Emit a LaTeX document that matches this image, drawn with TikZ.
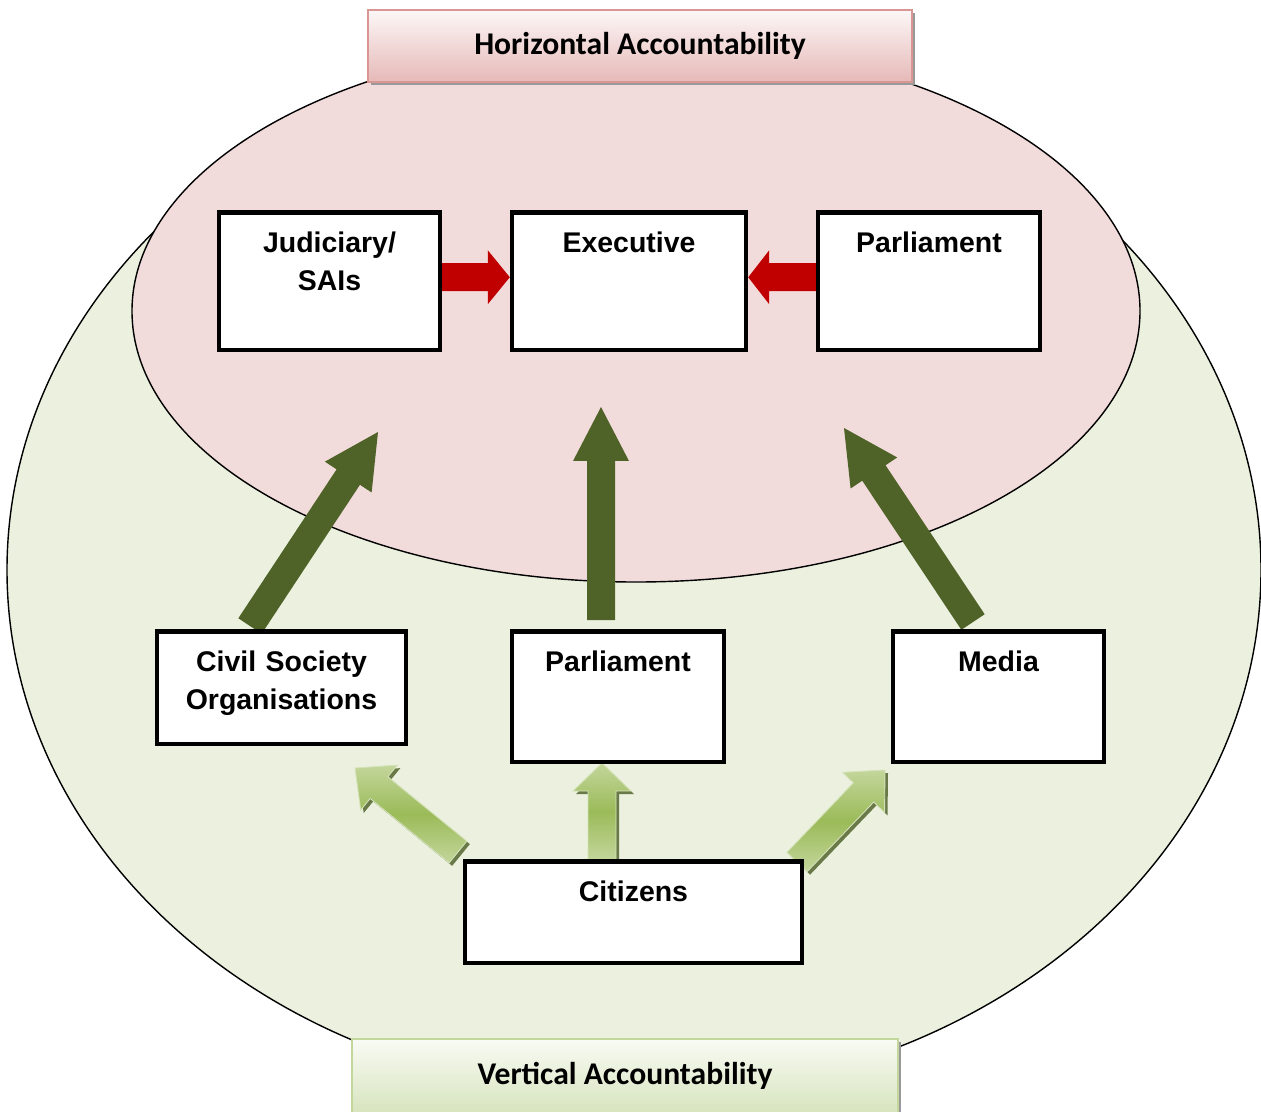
\documentclass[tikz,border=0pt]{standalone}
\usepackage{fontspec}
\setmainfont{Liberation Sans}
\newfontfamily\bannerfont{Carlito}
\usetikzlibrary{calc,shadows}

\definecolor{hpink}{HTML}{F2DCDB}
\definecolor{vgreen}{HTML}{EBF1DE}
\definecolor{darkolive}{HTML}{4F6228}
\definecolor{arrowred}{HTML}{C00000}
\definecolor{lightleaf}{HTML}{C3D69B}
\definecolor{leaf}{HTML}{9BBB59}
\definecolor{pinkedge}{HTML}{D99694}
\definecolor{pinkband}{HTML}{E6B9B8}
\definecolor{greenband}{HTML}{D7E4BD}

% block arrow: style, tail, tip, shaft half width, head half width, head length
\newcommand\fatarrow[6]{%
  \coordinate (fa-base) at ($(#3)!#6!(#2)$);
  \path[#1] ($(#2)!#4!90:(#3)$) -- ($(fa-base)!#4!90:(#3)$) -- ($(fa-base)!#5!90:(#3)$)
    -- (#3) -- ($(fa-base)!#5!-90:(#3)$) -- ($(fa-base)!#4!-90:(#3)$) -- ($(#2)!#4!-90:(#3)$) -- cycle;}

\begin{document}
\begin{tikzpicture}[
  x=0.02cm, y=-0.02cm,
  font=\fontsize{16.2}{22}\selectfont\bfseries,
  box/.style={draw, line width=0.09cm, fill=white, inner sep=0pt, align=center, anchor=north, text height=0.8cm},
  banner/.style={draw, line width=0.04cm, inner sep=0pt, font=\bannerfont\fontsize{18}{22}\selectfont\bfseries,
    drop shadow={shadow xshift=0.06cm, shadow yshift=-0.06cm, fill=black!40, opacity=1}},
  redarrow/.style={fill=arrowred},
  olivearrow/.style={fill=darkolive},
  leafarrow/.style={top color=lightleaf, bottom color=lightleaf, middle color=leaf, draw=lightleaf!70, line width=0.5pt,
    drop shadow={shadow xshift=0.06cm, shadow yshift=-0.06cm, fill=darkolive!85, opacity=1}}]

  \useasboundingbox (0,0) rectangle (1261,1112);

  % the two areas
  \draw[fill=vgreen, line width=0.8pt] (634,570) ellipse [x radius=627, y radius=526];
  \draw[fill=hpink, line width=0.8pt] (636,311) ellipse [x radius=504, y radius=271];

  % ends of the arrows
  \coordinate (civ-tail) at (250,626);
  \coordinate (civ-tip) at (378,432);
  \coordinate (par-tail) at (601,620);
  \coordinate (par-tip) at (601,407);
  \coordinate (med-tail) at (973,622);
  \coordinate (med-tip) at (844,428);
  \coordinate (cit-left) at (458,852);
  \coordinate (to-civil) at (355,768);
  \coordinate (cit-mid) at (602,860);
  \coordinate (to-parl) at (602,763);
  \coordinate (cit-right) at (797,862);
  \coordinate (to-media) at (885,770);

  \fatarrow{olivearrow}{civ-tail}{civ-tip}{0.28cm}{0.56cm}{1.08cm}
  \fatarrow{olivearrow}{par-tail}{par-tip}{0.28cm}{0.56cm}{1.08cm}
  \fatarrow{olivearrow}{med-tail}{med-tip}{0.28cm}{0.56cm}{1.08cm}

  \fatarrow{leafarrow}{cit-left}{to-civil}{0.28cm}{0.58cm}{0.62cm}
  \fatarrow{leafarrow}{cit-mid}{to-parl}{0.28cm}{0.58cm}{0.56cm}
  \fatarrow{leafarrow}{cit-right}{to-media}{0.28cm}{0.58cm}{0.62cm}

  % boxes
  \node[box, text width=4.42cm, text depth=1.96cm] (judiciary) at (329.5,210) {Judiciary/\\SAIs};
  \node[box, text width=4.68cm, text depth=1.96cm] (executive) at (629,210) {Executive};
  \node[box, text width=4.44cm, text depth=1.96cm] (parliament-h) at (929,210) {Parliament};
  \node[box, text width=4.98cm, text depth=1.46cm] (civil) at (281.5,629) {Civil Society\\Organisations};
  \node[box, text width=4.24cm, text depth=1.82cm] (parliament-v) at (618,629) {Parliament};
  \node[box, text width=4.22cm, text depth=1.82cm] (media) at (998.5,629) {Media};
  \node[box, text width=6.74cm, text depth=1.24cm] (citizens) at (633.5,859) {Citizens};

  \coordinate (jud-out) at ($(judiciary.east)+(0,-4)$);
  \coordinate (exe-left) at ($(executive.west)+(0,-4)$);
  \coordinate (par-out) at ($(parliament-h.west)+(0,-4)$);
  \coordinate (exe-right) at ($(executive.east)+(0,-4)$);
  \fatarrow{redarrow}{jud-out}{exe-left}{0.28cm}{0.54cm}{0.44cm}
  \fatarrow{redarrow}{par-out}{exe-right}{0.28cm}{0.54cm}{0.42cm}

  % banners
  \node[banner, draw=pinkedge, top color=pinkband!12, bottom color=pinkband, minimum width=10.88cm, minimum height=1.44cm]
    (horizontal) at (640,46) {Horizontal Accountability};
  \node[banner, draw=lightleaf, top color=greenband!15, bottom color=greenband, minimum width=10.92cm, minimum height=1.5cm]
    (vertical) at (625,1076) {Vertical Accountability};

\end{tikzpicture}
\end{document}
